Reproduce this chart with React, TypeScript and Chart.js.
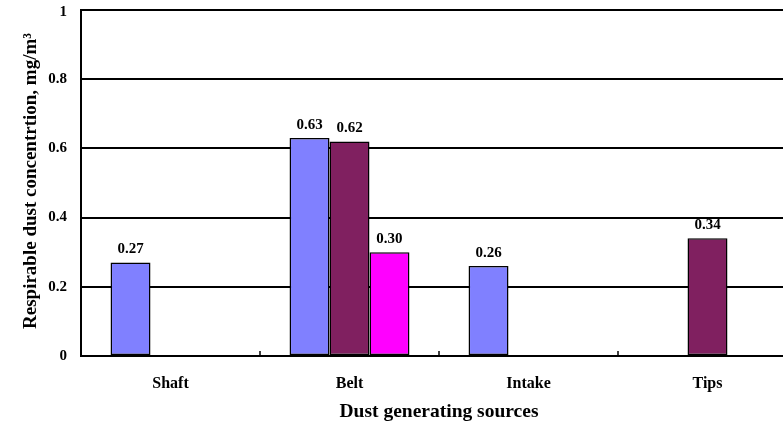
import React, { useEffect, useRef } from "react";
import { Chart, registerables } from "chart.js";

Chart.register(...registerables);

const categories = ["Shaft", "Belt", "Intake", "Tips"];
const seriesA = [0.27, 0.63, 0.26, null];
const seriesB = [null, 0.62, null, 0.34];
const seriesC = [null, 0.30, null, null];
const yTicks = [0, 0.2, 0.4, 0.6, 0.8, 1];
const yTitle = "Respirable dust concentrtion, mg/m³";
const xTitle = "Dust generating sources";

const FONT = "'Liberation Serif', 'Times New Roman', serif";

const labelsPlugin = {
  id: "customLabels",
  // drawn before the grid so the grid lines cross over them, as in the reference
  beforeDraw(chart: any) {
    const ctx = chart.ctx;
    ctx.save();
    ctx.fillStyle = "#000";
    ctx.font = `bold 15px ${FONT}`;
    ctx.textAlign = "center";
    ctx.textBaseline = "alphabetic";
    chart.data.datasets.forEach((ds: any, i: number) => {
      const meta = chart.getDatasetMeta(i);
      meta.data.forEach((el: any, j: number) => {
        const v = ds.data[j];
        if (v === null || v === undefined) return;
        ctx.fillText(Number(v).toFixed(2), el.x, el.y - 9.5);
      });
    });
    ctx.restore();
  },
  afterDraw(chart: any) {
    const ctx = chart.ctx;
    const area = chart.chartArea;
    const xs = chart.scales.x;
    const ys = chart.scales.y;
    ctx.save();
    // inward tick marks between categories
    ctx.strokeStyle = "#000";
    ctx.lineWidth = 1.5;
    for (let i = 1; i < categories.length; i++) {
      const xp = (xs.getPixelForValue(i - 1) + xs.getPixelForValue(i)) / 2;
      ctx.beginPath();
      ctx.moveTo(xp, area.bottom);
      ctx.lineTo(xp, area.bottom - 5);
      ctx.stroke();
    }
    ctx.fillStyle = "#000";
    // y tick labels
    ctx.font = `bold 15px ${FONT}`;
    ctx.textAlign = "right";
    ctx.textBaseline = "middle";
    yTicks.forEach((v) => {
      ctx.fillText(String(v), 67, Math.max(ys.getPixelForValue(v), 12));
    });
    // titles
    ctx.textAlign = "center";
    ctx.font = `bold 19.5px ${FONT}`;
    ctx.fillText(xTitle, (area.left + area.right) / 2, 412);
    ctx.font = `bold 19px ${FONT}`;
    ctx.textBaseline = "alphabetic";
    ctx.translate(36, 181);
    ctx.rotate(-Math.PI / 2);
    ctx.fillText(yTitle, 0, 0);
    ctx.restore();
  },
};

export default function App() {
  const ref = useRef<HTMLCanvasElement>(null);
  useEffect(() => {
    if (!ref.current) return;
    const chart = new Chart(ref.current, {
      type: "bar",
      data: {
        labels: categories,
        datasets: [
          { label: "A", data: seriesA, backgroundColor: "#8080FF", borderColor: "#000", borderWidth: 1.5, borderSkipped: false },
          { label: "B", data: seriesB, backgroundColor: "#802060", borderColor: "#000", borderWidth: 1.5, borderSkipped: false },
          { label: "C", data: seriesC, backgroundColor: "#FF00FF", borderColor: "#000", borderWidth: 1.5, borderSkipped: false },
        ],
      },
      options: {
        responsive: false,
        animation: false,
        devicePixelRatio: 1,
        layout: { padding: { top: 10, right: 3, left: 0, bottom: 0 } },
        plugins: { legend: { display: false }, tooltip: { enabled: false } },
        datasets: { bar: { barPercentage: 1, categoryPercentage: 0.67 } },
        scales: {
          x: {
            grid: { display: false, drawTicks: false },
            border: { display: true, color: "#000", width: 2 },
            ticks: { color: "#000", font: { family: FONT, size: 16, weight: "bold" }, padding: 18 },
            afterFit: (s: any) => { s.height = 73; },
          },
          y: {
            min: 0,
            max: 1,
            afterBuildTicks: (s: any) => { s.ticks = yTicks.map((v) => ({ value: v })); },
            grid: { color: "#000", lineWidth: 2, drawTicks: false },
            border: { display: true, color: "#000", width: 2 },
            ticks: { display: false },
            afterFit: (s: any) => { s.width = 81; },
          },
        },
      },
      plugins: [labelsPlugin],
    });
    return () => chart.destroy();
  }, []);
  return (
    <div style={{ position: "fixed", left: 0, top: 0, width: 783, height: 429, overflow: "hidden", background: "#fff" }}>
      <canvas ref={ref} width={800} height={429} style={{ display: "block" }} />
    </div>
  );
}
